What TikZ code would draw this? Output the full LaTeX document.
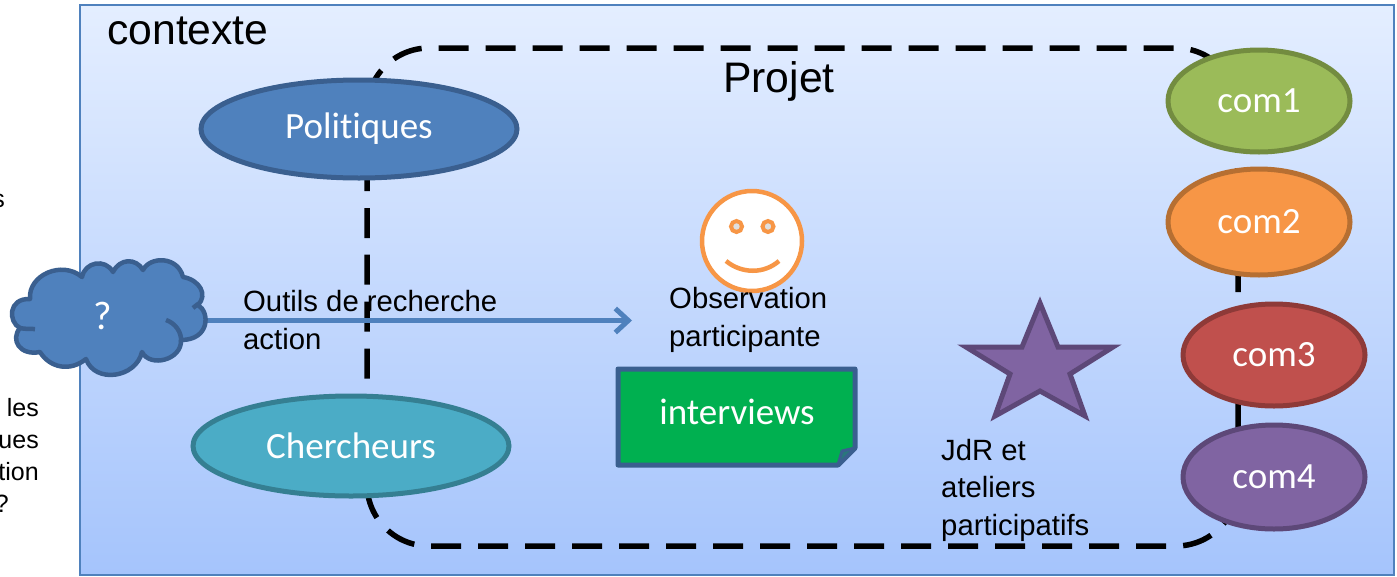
\documentclass[tikz,border=0pt]{standalone}
\usepackage{fontspec}
\setmainfont{Liberation Sans}
\newfontfamily\labelfont[Ligatures=NoCommon]{Carlito}
\usetikzlibrary{arrows.meta,shapes.geometric}
\definecolor{frameblue}{HTML}{4F81BD}
\definecolor{bgtop}{HTML}{E4EEFF}
\definecolor{bgbot}{HTML}{A5C4FC}
\definecolor{polfill}{HTML}{4F81BD}
\definecolor{poldraw}{HTML}{3A5F8F}
\definecolor{chfill}{HTML}{4BACC6}
\definecolor{chdraw}{HTML}{357F92}
\definecolor{gfill}{HTML}{9BBB59}
\definecolor{gdraw}{HTML}{738C40}
\definecolor{ofill}{HTML}{F79646}
\definecolor{odraw}{HTML}{B66F32}
\definecolor{rfill}{HTML}{C0504D}
\definecolor{rdraw}{HTML}{8E3A38}
\definecolor{vfill}{HTML}{8064A2}
\definecolor{vdraw}{HTML}{5D4878}
\definecolor{notegreen}{HTML}{00B050}
\newcommand{\lowered}[1]{\raisebox{-2.5pt}{#1}}
\tikzset{
  x=1pt,y=-1pt,
  blob/.style={ellipse,draw,line width=5pt,inner sep=0pt,outer sep=0pt,text=white,
    font=\labelfont\fontsize{37}{42}\selectfont},
  pol/.style={blob,fill=#1fill,draw=#1draw},
  txt/.style={anchor=base west,inner sep=0pt,font=\fontsize{29.3}{37.5}\selectfont,align=left,text=black},
  bigtxt/.style={anchor=base west,inner sep=0pt,font=\fontsize{42.7}{48}\selectfont,text=black},
  cuttxt/.style={anchor=base east,inner sep=0pt,font=\fontsize{25}{32}\selectfont,align=right,text=black},
  projet/.style={line width=5.5pt,dash pattern=on 30pt off 17pt,rounded corners=62pt},
}
\begin{document}
\begin{tikzpicture}
\useasboundingbox (0,0) rectangle (1397,576);
% left cut-off text
\node[cuttxt] (cuta) at (5,207) {s};
\node[cuttxt] (cutb) at (39,416) {les};
\node[cuttxt] (cutc) at (39,448) {ues};
\node[cuttxt] (cutd) at (39,480) {tion};
\node[cuttxt] (cute) at (9,512) {?};
% context frame
\draw[frameblue,line width=2pt,top color=bgtop,bottom color=bgbot] (79.5,5) rectangle (1394,575);
\node[bigtxt] (contexte) at (107,44) {contexte};
% project outline
\draw[projet] (367,300) -- (367,48) -- (1238,48) -- (1238,546) -- (367,546) -- cycle;
\node[bigtxt] (projet) at (723,92) {Projet};
% ellipses
\node[pol=pol,minimum width=316pt,minimum height=98pt] (politiques) at (359,129) {\lowered{Politiques}};
\node[blob,fill=chfill,draw=chdraw,minimum width=316pt,minimum height=100pt] (chercheurs) at (351,446) {\lowered{Chercheurs}};
\node[blob,fill=gfill,draw=gdraw,minimum width=182pt,minimum height=102pt] (com1) at (1259,101) {\lowered{com1}};
\node[blob,fill=ofill,draw=odraw,minimum width=182pt,minimum height=106pt] (com2) at (1259,222) {\lowered{com2}};
\node[blob,fill=rfill,draw=rdraw,minimum width=182pt,minimum height=102pt] (com3) at (1274,355) {\lowered{com3}};
\node[blob,fill=vfill,draw=vdraw,minimum width=182pt,minimum height=104pt] (com4) at (1274,477) {\lowered{com4}};
% arrow and cloud
\coordinate (arrowend) at (632,320.5);
\coordinate (arrowstart) at (190,320.5);
\draw[frameblue,line width=5pt,line cap=round,-{Straight Barb[length=13pt,width=24pt,line width=5pt]}] (arrowstart) -- (arrowend);
\draw[poldraw,line width=4.5pt,fill=polfill,line join=round]
  (30,299) .. controls (28,275) and (62,260) .. (82,277)
  .. controls (85,262) and (105,258) .. (113,272)
  .. controls (120,258) and (136,258) .. (143,270)
  .. controls (150,256) and (178,256) .. (183,277)
  .. controls (200,280) and (208,295) .. (198,305)
  .. controls (210,312) and (210,340) .. (181,340)
  .. controls (182,360) and (150,368) .. (142,352)
  .. controls (136,378) and (95,384) .. (86,359)
  .. controls (70,372) and (50,368) .. (40,352)
  .. controls (20,356) and (10,340) .. (20,328)
  .. controls (8,322) and (8,298) .. (30,299) -- cycle;
\draw[poldraw,line width=4.5pt,line cap=butt] (20,328) .. controls (24,329) and (30,329) .. (35,329);
\draw[poldraw,line width=4.5pt] (166,320) .. controls (175,323) and (182,332) .. (181,342);
\draw[poldraw,line width=4.5pt] (193,308) -- (198,304);
\node[inner sep=0pt,text=white,font=\labelfont\fontsize{40}{44}\selectfont] (cloud) at (103,316) {?};
\node[txt] (outils) at (243,349) {Outils de recherche\\action};
% smiley
\node[circle,draw=ofill,fill=white,line width=4.5pt,minimum size=100pt,inner sep=0pt] (smiley) at (752,241) {};
\draw[ofill,line width=4pt,fill=white!75!gray] (736.5,226.5) circle (5.5pt);
\draw[ofill,line width=4pt,fill=white!75!gray] (768,226.5) circle (5.5pt);
\draw[ofill,line width=4.5pt] (726,261) .. controls (742,274) and (764,274) .. (779,261);
\node[txt] (obs) at (669,346) {Observation\\participante};
% interviews note
\draw[poldraw,line width=5pt,fill=notegreen,line join=round]
 (618,369) -- (855,369) -- (855,448) -- (838,465) -- (618,465) -- cycle;
\draw[poldraw,line width=3pt,fill=poldraw!70!notegreen,line join=round] (855,448) -- (842,451) -- (838,465) -- cycle;
\node[inner sep=0pt,text=white,font=\labelfont\fontsize{37}{42}\selectfont] (interviews) at (737,412) {interviews};
% star
\draw[vdraw,line width=5pt,fill=vfill,line join=miter]
 (1040,303) -- (1058,347) -- (1113,347) -- (1070,374) -- (1085,416) -- (1040,391) -- (995,416) -- (1010,374) -- (966,347) -- (1022,347) -- cycle;
\node[txt] (jdr) at (941,535) {JdR et\\ateliers\\participatifs};
\end{tikzpicture}
\end{document}
